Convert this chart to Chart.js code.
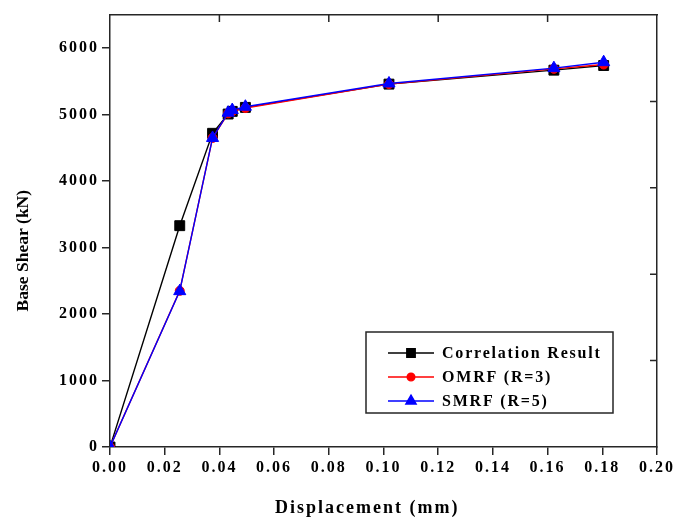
<!DOCTYPE html>
<html>
<head>
<meta charset="utf-8">
<script src="https://cdn.jsdelivr.net/npm/chart.js@4/dist/chart.umd.min.js"></script>
<style>
  body { margin: 0; background: #fff; }
  #wrap { width: 676px; height: 521px; }
</style>
</head>
<body>
<div id="wrap"><canvas id="chart"></canvas></div>
<script>
// Pushover curves - base shear against displacement
const displacement = [0, 0.0255, 0.0375, 0.0432, 0.0447, 0.0495, 0.102, 0.1623, 0.1805];
const correlation  = [0, 3330, 4720, 5010, 5050, 5110, 5460, 5670, 5740];
const omrf         = [0, 2350, 4650, 5020, 5050, 5100, 5460, 5690, 5755];
const smrf         = [0, 2345, 4650, 5030, 5070, 5120, 5470, 5700, 5790];

const seriesLabels = ['Correlation Result', 'OMRF (R=3)', 'SMRF (R=5)'];
const xTitle = 'Displacement (mm)';
const yTitle = 'Base Shear (kN)';

// tick values: labelled bottom/left, unlabelled inward ticks on top/right
const xTickValues = [0, 0.02, 0.04, 0.06, 0.08, 0.10, 0.12, 0.14, 0.16, 0.18, 0.20];
const yTickValues = [0, 1000, 2000, 3000, 4000, 5000, 6000];
const xTopTicks = [0.04, 0.08, 0.12, 0.16];
const yRightTicks = [1300, 2600, 3900, 5200];
const xRange = [0, 0.2];
const yRange = [0, 6500];

const serif = '"Liberation Serif", "Times New Roman", serif';
const ink = '#262626';

function points(ys) {
    return displacement.map((x, i) => ({ x: x, y: ys[i] }));
}

function setTicks(values) {
    return scale => { scale.ticks = values.map(v => ({ value: v })); };
}

// the y title is not letter spaced like the rest of the text
function plainTitle(scale) {
    if (scale._plainTitle) return;
    const draw = scale.drawTitle;
    scale.drawTitle = function () {
        const ls = this.ctx.letterSpacing;
        this.ctx.letterSpacing = '0px';
        draw.call(this);
        this.ctx.letterSpacing = ls;
    };
    scale._plainTitle = true;
}

const spacedText = {
    id: 'spacedText',
    beforeDraw(chart) {
        chart.ctx.letterSpacing = '2px';
    }
};

// short ticks pointing into the plot on the top and right frame
const innerTicks = {
    id: 'innerTicks',
    afterDatasetsDraw(chart) {
        const { ctx, chartArea: a, scales } = chart;
        ctx.save();
        ctx.strokeStyle = ink;
        ctx.lineWidth = 1.5;
        ctx.beginPath();
        scales.x2.ticks.forEach(t => {
            const px = scales.x2.getPixelForValue(t.value);
            ctx.moveTo(px, a.top);
            ctx.lineTo(px, a.top + 7);
        });
        scales.y2.ticks.forEach(t => {
            const py = scales.y2.getPixelForValue(t.value);
            ctx.moveTo(a.right, py);
            ctx.lineTo(a.right - 7, py);
        });
        ctx.stroke();
        ctx.restore();
    }
};

// boxed legend sitting inside the plot, lower right
const boxLegend = {
    id: 'boxLegend',
    afterDatasetsDraw(chart) {
        const { ctx, chartArea: a } = chart;
        const left = a.left + 256, top = a.top + 317, w = 247, h = 81;
        ctx.save();
        ctx.fillStyle = '#fff';
        ctx.fillRect(left, top, w, h);
        ctx.strokeStyle = ink;
        ctx.lineWidth = 1.5;
        ctx.strokeRect(left, top, w, h);
        ctx.letterSpacing = '1.8px';
        ctx.font = 'bold 16px ' + serif;
        ctx.textBaseline = 'middle';
        ['corr', 'omrf', 'smrf'].forEach((id, i) => {
            const ds = chart.data.datasets.find(d => d.id === id);
            const y = top + 21 + i * 24;
            ctx.strokeStyle = ds.borderColor;
            ctx.lineWidth = ds.borderWidth;
            ctx.beginPath();
            ctx.moveTo(left + 22, y);
            ctx.lineTo(left + 68, y);
            ctx.stroke();
            ctx.fillStyle = ds.pointBackgroundColor;
            ctx.strokeStyle = ds.pointBorderColor;
            Chart.helpers.drawPoint(ctx, {
                pointStyle: ds.pointStyle,
                radius: ds.pointRadius * 0.85,
                borderWidth: 1,
                rotation: 0
            }, left + 45, y);
            ctx.fillStyle = '#000';
            ctx.fillText(ds.label, left + 76, y + 1);
        });
        ctx.restore();
    }
};

const frameAxis = {
    display: true,
    grid: { drawOnChartArea: false, drawTicks: false },
    border: { display: true, color: ink, width: 1.5 }
};

new Chart(document.getElementById('chart'), {
    type: 'line',
    data: {
        datasets: [
            {
                id: 'corr', label: seriesLabels[0], data: points(correlation), order: 3,
                borderColor: '#000', pointBackgroundColor: '#000', pointBorderColor: '#000',
                pointStyle: 'rect', pointRadius: 7
            },
            {
                id: 'omrf', label: seriesLabels[1], data: points(omrf), order: 2,
                borderColor: '#ff0000', pointBackgroundColor: '#ff0000', pointBorderColor: '#ff0000',
                pointStyle: 'circle', pointRadius: 4.5
            },
            {
                id: 'smrf', label: seriesLabels[2], data: points(smrf), order: 1,
                borderColor: '#0000ff', pointBackgroundColor: '#0000ff', pointBorderColor: '#0000ff',
                pointStyle: 'triangle', pointRadius: 7
            }
        ].map(d => Object.assign({ borderWidth: 1.4, pointBorderWidth: 1, tension: 0, fill: false, clip: 0 }, d))
    },
    options: {
        responsive: true,
        maintainAspectRatio: false,
        animation: false,
        layout: { padding: { top: 15, right: 19, left: 0, bottom: 0 } },
        plugins: {
            legend: { display: false },
            tooltip: { enabled: false }
        },
        scales: {
            x: {
                type: 'linear', position: 'bottom',
                min: xRange[0], max: xRange[1],
                afterBuildTicks: setTicks(xTickValues),
                afterFit(scale) { scale.height = 74; },
                ticks: {
                    autoSkip: false, maxRotation: 0,
                    padding: 3, color: '#000',
                    font: { family: serif, size: 16, weight: 'bold' },
                    callback: v => v.toFixed(2)
                },
                grid: { drawOnChartArea: false, drawTicks: true, tickLength: 8, color: ink, lineWidth: 1.5 },
                border: { display: true, color: ink, width: 1.5 },
                title: {
                    display: true,
                    text: xTitle + '\u00a0'.repeat(5),
                    color: '#000',
                    font: { family: serif, size: 18, weight: 'bold' },
                    padding: { top: 0, bottom: 2 }
                }
            },
            y: {
                type: 'linear', position: 'left',
                min: yRange[0], max: yRange[1],
                afterBuildTicks: setTicks(yTickValues),
                afterFit(scale) { scale.width = 110; plainTitle(scale); },
                ticks: {
                    autoSkip: false, padding: 3, color: '#000',
                    font: { family: serif, size: 16, weight: 'bold' },
                    callback: v => String(v)
                },
                grid: { drawOnChartArea: false, drawTicks: true, tickLength: 8, color: ink, lineWidth: 1.5 },
                border: { display: true, color: ink, width: 1.5 },
                title: {
                    display: true,
                    text: yTitle + '\u00a0'.repeat(9),
                    color: '#000',
                    font: { family: serif, size: 17.5, weight: 'bold' },
                    padding: { top: 13, bottom: 0 }
                }
            },
            x2: Object.assign({}, frameAxis, {
                type: 'linear', position: 'top',
                min: xRange[0], max: xRange[1],
                afterBuildTicks: setTicks(xTopTicks),
                afterFit(scale) { scale.height = 0; },
                ticks: { display: false }
            }),
            y2: Object.assign({}, frameAxis, {
                type: 'linear', position: 'right',
                min: yRange[0], max: yRange[1],
                afterBuildTicks: setTicks(yRightTicks),
                afterFit(scale) { scale.width = 0; },
                ticks: { display: false }
            })
        }
    },
    plugins: [spacedText, innerTicks, boxLegend]
});
</script>
</body>
</html>
